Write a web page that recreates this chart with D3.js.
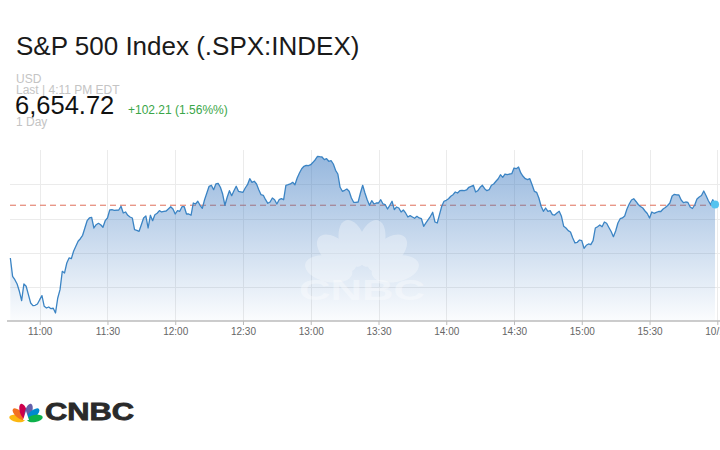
<!DOCTYPE html>
<html><head><meta charset="utf-8">
<script src="https://cdn.jsdelivr.net/npm/d3@7"></script>
<style>
body{margin:0;background:#fff;}
svg{display:block;font-family:Arial,"Liberation Sans",sans-serif;}
</style>
</head><body>
<svg id="c" width="720" height="450"></svg>
<script>
// ---- data ----
const titleText = "S&P 500 Index (.SPX:INDEX)";
const currencyText = "USD";
const lastText = "Last | 4:11 PM EDT";
const priceText = "6,654.72";
const changeText = "+102.21 (1.56%%)";
const rangeText = "1 Day";

const times = [
"10:47","10:48","10:49","10:50","10:51","10:52","10:53","10:54","10:55","10:56","10:57","10:58","10:59",
"11:00","11:01","11:02","11:03","11:04","11:05","11:06","11:07","11:08","11:09","11:10","11:11","11:12","11:13","11:14","11:15","11:16","11:17","11:18","11:19","11:20","11:21","11:22","11:23","11:24","11:25","11:26","11:27","11:28","11:29",
"11:30","11:31","11:32","11:33","11:35","11:36","11:37","11:38","11:39","11:40","11:41","11:42","11:43","11:44","11:45","11:46","11:47","11:48","11:49","11:50","11:51","11:52","11:53","11:54","11:55","11:56","11:58","11:59",
"12:00","12:01","12:02","12:03","12:04","12:05","12:06","12:07","12:08","12:09","12:10","12:11","12:12","12:13","12:14","12:15","12:16","12:17","12:18","12:19","12:20","12:21","12:22","12:23","12:24","12:25","12:26","12:27","12:28",
"12:30","12:31","12:32","12:33","12:34","12:35","12:36","12:37","12:38","12:39","12:40","12:41","12:42","12:43","12:44","12:45","12:46","12:47","12:48","12:49","12:50","12:51","12:52","12:53","12:54","12:55","12:56","12:57","12:58","12:59",
"13:00","13:01","13:02","13:03","13:04","13:05","13:06","13:07","13:08","13:09","13:10","13:11","13:12","13:13","13:14","13:15","13:16","13:17","13:18","13:19","13:20","13:21","13:22","13:23","13:24","13:25","13:26","13:27","13:28","13:29",
"13:30","13:31","13:32","13:33","13:34","13:35","13:36","13:37","13:38","13:39","13:40","13:41","13:42","13:43","13:44","13:45","13:46","13:47","13:48","13:49","13:50","13:51","13:52","13:53","13:54","13:55","13:56","13:57","13:58","13:59",
"14:00","14:01","14:02","14:03","14:04","14:05","14:06","14:07","14:08","14:09","14:10","14:11","14:12","14:13","14:14","14:15","14:16","14:17","14:18","14:19","14:20","14:21","14:22","14:23","14:24","14:25","14:26","14:27","14:28","14:29",
"14:30","14:31","14:32","14:33","14:34","14:35","14:36","14:37","14:38","14:39","14:40","14:41","14:42","14:43","14:44","14:45","14:46","14:47","14:48","14:49","14:50","14:51","14:52","14:53","14:54","14:55","14:56","14:57","14:58","14:59",
"15:00","15:01","15:02","15:03","15:04","15:05","15:06","15:07","15:08","15:09","15:10","15:11","15:12","15:13","15:14","15:15","15:16","15:17","15:18","15:19","15:20","15:21","15:22","15:23","15:24","15:25","15:26","15:27","15:28","15:29",
"15:30","15:31","15:32","15:33","15:34","15:35","15:36","15:37","15:38","15:39","15:40","15:41","15:42","15:43","15:44","15:45","15:46","15:47","15:48","15:49","15:50","15:51","15:52","15:53","15:54","15:55","15:56","15:57","15:58","15:59"
];
const values = [
6638.52,6633.18,6632.19,6630.94,6628.81,6626.07,6630.94,6630.27,6627.82,6625.40,6624.61,6624.73,6625.11,
6626.36,6627.53,6624.44,6623.94,6624.23,6623.74,6623.86,6622.49,6626.86,6629.28,6634.64,6634.15,6637.06,6638.52,6638.31,6640.47,6641.93,6643.39,6644.14,6645.14,6647.26,6649.39,6650.18,6650.38,6647.26,6648.22,6648.63,6648.22,6647.47,6649.39,
6650.18,6652.51,6652.60,6652.42,6652.51,6653.59,6651.64,6651.93,6650.97,6650.47,6650.18,6646.77,6646.59,6646.30,6648.22,6650.18,6650.76,6647.26,6650.97,6649.39,6651.14,6651.55,6652.31,6651.93,6652.13,6652.22,6653.47,6652.80,
6651.34,6652.31,6652.13,6653.47,6653.47,6651.34,6651.34,6650.97,6654.55,6654.26,6655.05,6653.88,6653.01,6655.51,6657.47,6659.42,6659.71,6658.43,6660.09,6660.29,6659.13,6657.17,6653.88,6656.21,6658.14,6656.68,6658.14,6659.42,6657.96,
6657.67,6658.92,6659.88,6661.63,6660.58,6660.88,6660.09,6658.43,6656.97,6656.80,6655.51,6654.46,6654.84,6656.01,6655.51,6654.26,6655.51,6655.80,6655.51,6659.71,6659.88,6660.09,6660.58,6659.88,6661.84,6663.30,6664.55,6665.25,6665.54,6665.42,
6665.71,6666.41,6667.17,6668.16,6668.05,6667.96,6667.17,6667.46,6666.71,6666.88,6665.92,6664.08,6663.00,6659.13,6657.96,6658.25,6658.63,6657.96,6656.01,6654.75,6654.75,6654.84,6657.47,6659.71,6657.47,6655.51,6653.88,6655.22,6654.26,6654.55,
6654.55,6655.51,6654.26,6654.05,6652.80,6653.88,6655.05,6652.60,6653.38,6653.09,6651.93,6652.51,6651.64,6650.47,6650.85,6650.47,6650.09,6650.67,6650.18,6649.97,6647.76,6648.72,6649.68,6650.67,6651.84,6649.01,6648.72,6651.14,6653.59,6655.05,
6655.34,6655.80,6656.50,6656.97,6657.76,6657.47,6658.14,6658.25,6658.14,6658.34,6659.13,6659.42,6659.71,6657.76,6658.14,6659.13,6659.71,6658.72,6658.14,6658.43,6659.71,6660.09,6660.88,6661.63,6662.80,6662.04,6663.00,6662.80,6663.00,6663.09,
6664.75,6664.55,6665.04,6663.30,6662.33,6661.63,6661.34,6661.63,6659.88,6657.96,6657.67,6656.01,6653.59,6652.13,6653.09,6652.13,6652.31,6651.14,6651.05,6651.64,6652.13,6650.67,6647.76,6647.26,6646.48,6646.10,6644.35,6642.89,6643.10,6643.76,
6643.56,6641.35,6642.22,6642.60,6642.40,6643.56,6647.26,6647.64,6648.14,6647.64,6649.01,6648.63,6647.41,6646.24,6644.73,6646.39,6648.72,6649.97,6650.18,6650.76,6652.80,6654.26,6655.42,6655.80,6654.99,6654.11,6653.53,6653.09,6652.22,6651.49,
6650.18,6651.93,6651.55,6651.84,6652.07,6652.07,6652.80,6653.24,6653.82,6654.55,6656.59,6657.09,6656.94,6656.88,6655.42,6654.64,6654.84,6654.70,6653.38,6652.95,6653.97,6655.72,6656.30,6656.74,6658.05,6656.74,6655.28,6654.11,6655.51,6654.11
];
const tickTimes = ["11:00","11:30","12:00","12:30","13:00","13:30","14:00","14:30","15:00","15:30","16:00"];
const tickLabels = ["11:00","11:30","12:00","12:30","13:00","13:30","14:00","14:30","15:00","15:30","10/14"];
const gridValues = [6630,6640,6650,6660];
const yDomain = [6620,6670];
const refValue = 6653.9;
const feathers = ["#fcb711","#f37021","#cc004c","#6460aa","#0089d0","#0db14b"];
const logoText = "CNBC";

// ---- drawing ----
(function(){
const svg = d3.select("#c");
const parse = d3.timeParse("%Y-%m-%d %H:%M");
const T = s => parse("2025-10-13 " + s);
const data = times.map((t,i)=>({t:T(t), v:values[i]}));

const pL = 10, pR = 720, pT = 150, pB = 321;
const x = d3.scaleTime().domain([T("11:00"), T("16:00")]).range([39.7, 717.3]);
const y = d3.scaleLinear().domain(yDomain).range([321.5, 150]);

// header
svg.append("text").attr("x",16).attr("y",55).attr("font-size",26).attr("fill","#1a1a1a").text(titleText);
svg.append("text").attr("x",16).attr("y",82.5).attr("font-size",12).attr("fill","#c4c4c4").text(currencyText);
svg.append("text").attr("x",16).attr("y",93.5).attr("font-size",12).attr("fill","#c4c4c4").text(lastText);
svg.append("text").attr("x",15).attr("y",114).attr("font-size",25.5).attr("fill","#111").text(priceText);
svg.append("text").attr("x",128).attr("y",114).attr("font-size",12).attr("fill","#3aa648").text(changeText);
svg.append("text").attr("x",16).attr("y",126).attr("font-size",12).attr("fill","#c4c4c4").text(rangeText);

// gradient
const defs = svg.append("defs");
const g = defs.append("linearGradient").attr("id","ag").attr("gradientUnits","userSpaceOnUse")
  .attr("x1",0).attr("x2",0).attr("y1",pT).attr("y2",pB);
g.append("stop").attr("offset","0%").attr("stop-color","rgb(58,120,192)").attr("stop-opacity",0.55);
g.append("stop").attr("offset","100%").attr("stop-color","rgb(58,120,192)").attr("stop-opacity",0.02);

// grid
const grid = svg.append("g");
grid.selectAll("line.h").data(gridValues).join("line")
  .attr("x1",pL).attr("x2",pR).attr("y1",d=>Math.round(y(d))+0.5).attr("y2",d=>Math.round(y(d))+0.5)
  .attr("stroke","#ebebeb");
grid.selectAll("line.v").data(tickTimes).join("line")
  .attr("x1",d=>Math.round(x(T(d)))+0.5).attr("x2",d=>Math.round(x(T(d)))+0.5).attr("y1",pT).attr("y2",pB)
  .attr("stroke","#ebebeb");

// reference dashed line
svg.append("line").attr("x1",pL).attr("x2",718).attr("y1",y(refValue)).attr("y2",y(refValue))
  .attr("stroke","#df6f5a").attr("stroke-width",1).attr("stroke-dasharray","6,4");

// area
const area = d3.area().x(d=>x(d.t)).y0(pB).y1(d=>y(d.v));
svg.append("path").datum(data).attr("d",area).attr("fill","url(#ag)");

// watermark
const wm = svg.append("g").attr("fill","#fff").attr("opacity",0.32);
const wcx = 362, wcy = 276;
[-78,-48,-16,16,48,78].forEach(a=>{
  const r = a*Math.PI/180, dist = 34;
  const cx = wcx+Math.sin(r)*dist, cy = wcy-Math.cos(r)*dist;
  wm.append("ellipse").attr("cx",cx).attr("cy",cy)
    .attr("rx",13).attr("ry",24).attr("transform",`rotate(${a},${cx},${cy})`);
});
svg.append("text").attr("x",362).attr("y",300).attr("text-anchor","middle").attr("font-size",30)
  .attr("font-weight","bold").attr("fill","#fff").attr("opacity",0.35)
  .attr("textLength",126).attr("lengthAdjust","spacingAndGlyphs").text(logoText);

// line
svg.append("path").datum(data).attr("d",d3.line().x(d=>x(d.t)).y(d=>y(d.v)))
  .attr("fill","none").attr("stroke","#3b84c4").attr("stroke-width",1.3).attr("stroke-linejoin","round");

// last dot
const last = data[data.length-1];
svg.append("circle").attr("cx",x(last.t)).attr("cy",y(last.v)).attr("r",4).attr("fill","#55c3ef");

// axis
svg.append("line").attr("x1",7).attr("x2",720).attr("y1",321).attr("y2",321).attr("stroke","#bbb").attr("stroke-width",1.5);
const ax = svg.append("g").attr("transform","translate(0,321)")
  .call(d3.axisBottom(x).tickValues(tickTimes.map(T)).tickFormat((d,i)=>tickLabels[i]).tickSize(4).tickPadding(3));
ax.select(".domain").remove();
ax.selectAll(".tick line").attr("stroke","#bbb");
ax.selectAll(".tick text").attr("fill","#666").attr("font-size",10).attr("font-family","Arial, 'Liberation Sans', sans-serif");

// CNBC logo
const lg = svg.append("g");
const bx = 26, by = 420;
[-80,-50,-17,17,50,80].forEach((a,i)=>{
  const r = a*Math.PI/180, dist = 9;
  const cx = bx+Math.sin(r)*dist, cy = by-Math.cos(r)*dist;
  lg.append("ellipse").attr("cx",cx).attr("cy",cy).attr("rx",3.6).attr("ry",8)
    .attr("transform",`rotate(${a},${cx},${cy})`).attr("fill",feathers[i]);
});
lg.append("path").attr("d",`M${bx},${by-9} L${bx-3},${by} L${bx+3},${by} Z`).attr("fill","#fff");
lg.append("text").attr("x",45).attr("y",420).attr("font-size",24).attr("font-weight","bold")
  .attr("fill","#2a2a2a").attr("stroke","#2a2a2a").attr("stroke-width",0.8)
  .attr("textLength",89).attr("lengthAdjust","spacingAndGlyphs").text(logoText);
})();
</script>
</body></html>
